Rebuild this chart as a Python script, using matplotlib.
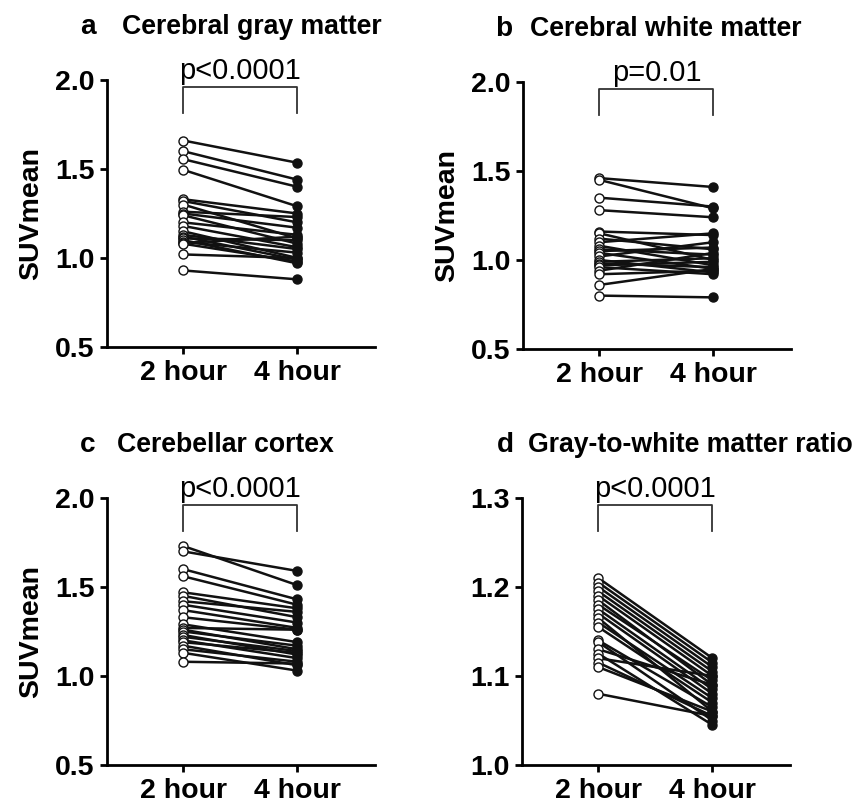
import matplotlib
matplotlib.use("Agg")
import matplotlib.pyplot as plt
import matplotlib.transforms as mtransforms

plt.rcParams["font.family"] = ["Liberation Sans", "DejaVu Sans"]

# ---------------------------------------------------------------------------
# Data (SUVmean per subject)
# ---------------------------------------------------------------------------
time_labels = ["2 hour", "4 hour"]

gray_2h = [1.66, 1.60, 1.555, 1.495, 1.33, 1.32, 1.30, 1.26, 1.25, 1.24, 1.20,
           1.18, 1.15, 1.13, 1.12, 1.11, 1.10, 1.09, 1.085, 1.08, 1.02, 0.93]
gray_4h = [1.535, 1.44, 1.40, 1.29, 1.25, 1.20, 1.11, 1.23, 1.17, 1.08, 1.13,
           1.06, 1.00, 1.05, 0.99, 1.10, 0.97, 1.03, 1.12, 0.98, 1.00, 0.88]

white_2h = [1.46, 1.45, 1.35, 1.28, 1.16, 1.15, 1.12, 1.10, 1.08, 1.06, 1.05,
            1.04, 1.02, 1.00, 0.99, 0.98, 0.97, 0.96, 0.94, 0.92, 0.86, 0.80]
white_4h = [1.41, 1.29, 1.30, 1.24, 1.14, 1.00, 1.06, 1.15, 0.97, 1.03, 1.07,
            0.95, 1.10, 0.93, 1.01, 0.96, 0.99, 0.92, 1.04, 0.94, 0.95, 0.79]

cereb_2h = [1.73, 1.70, 1.60, 1.56, 1.47, 1.45, 1.42, 1.40, 1.37, 1.33, 1.29,
            1.27, 1.26, 1.25, 1.23, 1.22, 1.20, 1.19, 1.17, 1.15, 1.13, 1.08]
cereb_4h = [1.51, 1.59, 1.43, 1.40, 1.38, 1.33, 1.36, 1.30, 1.27, 1.26, 1.19,
            1.26, 1.15, 1.17, 1.12, 1.14, 1.10, 1.13, 1.06, 1.08, 1.03, 1.07]

ratio_2h = [1.21, 1.205, 1.20, 1.195, 1.19, 1.185, 1.18, 1.175, 1.17, 1.165,
            1.16, 1.155, 1.14, 1.138, 1.13, 1.125, 1.12, 1.115, 1.11, 1.08]
ratio_4h = [1.12, 1.115, 1.11, 1.105, 1.10, 1.09, 1.095, 1.085, 1.08, 1.06,
            1.075, 1.07, 1.065, 1.05, 1.09, 1.045, 1.10, 1.055, 1.06, 1.055]

# (letter, title, before, after, p-label, ylim, yticks, ylabel)
panels = [
    ("a", "Cerebral gray matter", gray_2h, gray_4h, "p<0.0001",
     (0.5, 2.0), [0.5, 1.0, 1.5, 2.0], "SUVmean"),
    ("b", "Cerebral white matter", white_2h, white_4h, "p=0.01",
     (0.5, 2.0), [0.5, 1.0, 1.5, 2.0], "SUVmean"),
    ("c", "Cerebellar cortex", cereb_2h, cereb_4h, "p<0.0001",
     (0.5, 2.0), [0.5, 1.0, 1.5, 2.0], "SUVmean"),
    ("d", "Gray-to-white matter ratio", ratio_2h, ratio_4h, "p<0.0001",
     (1.0, 1.3), [1.0, 1.1, 1.2, 1.3], None),
]

# ---------------------------------------------------------------------------
# Layout (pixels of an 862x811 canvas)
# ---------------------------------------------------------------------------
_W, _H = 862, 811
# (axes left, axes bottom, letter x, title x) per panel
_LAYOUT = [
    (107, 347, 80, 122),
    (523, 349, 495, 530),
    (107, 765, 80, 117),
    (522, 765, 497, 528),
]
_AX_W, _AX_H = 268, 267

FS = 20.5
TITLE_FS = 19.2

fig = plt.figure(figsize=(_W / 100, _H / 100), dpi=100)

for (letter, title, before, after, ptxt, ylim, yticks, ylabel), \
        (lx, by, letter_x, title_x) in zip(panels, _LAYOUT):
    ax = fig.add_axes([lx / _W, (_H - by) / _H, _AX_W / _W, _AX_H / _H])

    for y0, y1 in zip(before, after):
        ax.plot([0, 1], [y0, y1], color="#111111", lw=1.8, zorder=2)
    ax.plot([0] * len(before), before, "o", ms=6.5, mfc="white",
            mec="#111111", mew=1.0, zorder=3, clip_on=False)
    ax.plot([1] * len(after), after, "o", ms=6.5, mfc="#111111",
            mec="#111111", zorder=3, clip_on=False)

    ax.set_xlim(-0.67, 1.68)
    ax.set_ylim(*ylim)
    ax.set_yticks(yticks)
    ax.set_yticklabels([f"{t:.1f}" for t in yticks])
    ax.set_xticks([0, 1])
    ax.set_xticklabels(time_labels)
    for lbl in ax.get_xticklabels() + ax.get_yticklabels():
        lbl.set_fontweight("bold")
        lbl.set_fontsize(FS)
    ax.tick_params(axis="both", direction="out", length=5, width=2, pad=4)
    for s in ("top", "right"):
        ax.spines[s].set_visible(False)
    for s in ("left", "bottom"):
        ax.spines[s].set_linewidth(2)

    if ylabel:
        ax.set_ylabel(ylabel, fontsize=FS, fontweight="bold", labelpad=8)

    # significance bracket
    trans = mtransforms.blended_transform_factory(ax.transData, ax.transAxes)
    ax.plot([0, 0, 1, 1], [0.876, 0.974, 0.974, 0.876], color="#333333",
            lw=1.3, transform=trans, clip_on=False)
    ax.text(0.5, 1.035, ptxt, transform=trans, ha="center", va="center",
            fontsize=21)

    # panel letter + title
    ax.text((letter_x - lx) / _AX_W, 1.20, letter, transform=ax.transAxes,
            ha="left", va="center", fontsize=TITLE_FS + 1, fontweight="bold")
    ax.text((title_x - lx) / _AX_W, 1.20, title, transform=ax.transAxes,
            ha="left", va="center", fontsize=TITLE_FS, fontweight="bold")

fig.savefig("out.png", dpi=100)
